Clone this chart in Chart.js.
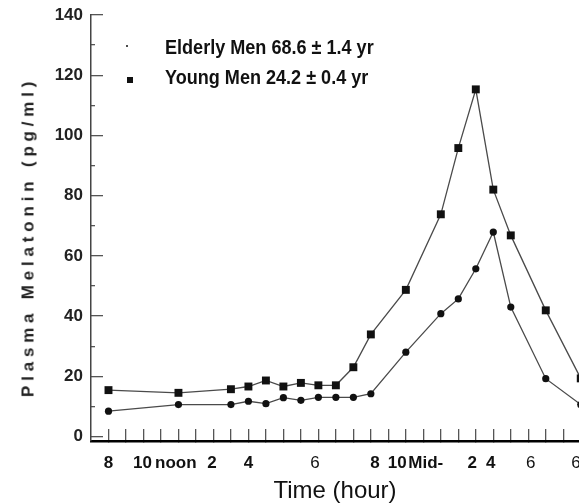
<!DOCTYPE html>
<html>
<head>
<meta charset="utf-8">
<script src="https://cdn.jsdelivr.net/npm/chart.js@4/dist/chart.umd.min.js"></script>
<style>
  html, body { margin: 0; padding: 0; background: #fff; }
  #wrap { position: relative; width: 579px; height: 503px; overflow: hidden; background: #fff; }
  #wrap canvas { position: absolute; left: 0; top: 0; }
  .leg { position: absolute; font-family: "Liberation Sans", Arial, sans-serif; font-weight: bold; font-size: 21px;
         color: #111; white-space: nowrap; transform: scaleX(0.86); transform-origin: 0 0; line-height: normal; }
  .mk { position: absolute; background: #111; }
  #ytitle { position: absolute; left: 27.5px; top: 237px; font-family: "Liberation Sans", Arial, sans-serif;
            font-weight: bold; font-size: 17px; line-height: 1; letter-spacing: 4.8px; color: #222;
            white-space: nowrap; transform: translate(-50%, -50%) rotate(-90deg); }
</style>
</head>
<body>
<div id="wrap">
  <canvas id="c"></canvas>
  <div class="mk" style="left:125.5px;top:44.8px;width:2.5px;height:2.5px;border-radius:50%;"></div>
  <div class="mk" style="left:126.7px;top:77px;width:6px;height:6px;"></div>
  <div class="leg" id="leg0" style="left:165px;top:35px;"></div>
  <div class="leg" id="leg1" style="left:165px;top:65px;"></div>
  <div id="ytitle"></div>
</div>
<script>
// ---- data ----
const hours = [8, 12, 15, 16, 17, 18, 19, 20, 21, 22, 23, 25, 27, 28, 29, 30, 31, 33, 35];
const youngMen = [15.4, 14.5, 15.7, 16.6, 18.6, 16.6, 17.8, 17, 17, 23, 33.9, 48.7, 73.8, 95.8, 115.3, 82, 66.8, 41.9, 19.3];
const elderlyMen = [8.4, 10.6, 10.6, 11.7, 10.9, 12.9, 12, 13, 13, 13, 14.2, 28, 40.8, 45.7, 55.7, 67.9, 43, 19.2, 10.6];
const seriesNames = ['Elderly Men 68.6 ± 1.4 yr', 'Young Men 24.2 ± 0.4 yr'];
const hourTicks = [8, 9, 10, 11, 12, 13, 14, 15, 16, 17, 18, 19, 20, 21, 22, 23, 24, 25, 26, 27, 28, 29, 30, 31, 32, 33, 34, 35];
const timeLabels = ['8', '10', 'noon', '2', '4', '6', '8', '10', 'Mid-', '2', '4', '6', '6'];
const timeLabelHours = [8, 9.94, 11.85, 13.91, 16, 19.81, 23.24, 24.51, 26.14, 28.8, 29.85, 32.14, 34.73];
const yLabelValues = [0, 20, 40, 60, 80, 100, 120, 140];
const xTitle = 'Time (hour)';
const yTitle = 'Plasma Melatonin (pg/ml)';

document.getElementById('leg0').textContent = seriesNames[0];
document.getElementById('leg1').textContent = seriesNames[1];
document.getElementById('ytitle').textContent = yTitle;

const toPts = (vals) => hours.map((h, i) => ({ x: h, y: vals[i] }));

new Chart(document.getElementById('c'), {
  type: 'line',
  data: {
    datasets: [
      {
        label: seriesNames[0],
        data: toPts(elderlyMen),
        borderColor: '#4a4a4a', borderWidth: 1.3,
        pointStyle: 'circle', pointRadius: 3.6,
        pointBackgroundColor: '#111', pointBorderColor: '#111', pointBorderWidth: 0,
        tension: 0, clip: false
      },
      {
        label: seriesNames[1],
        data: toPts(youngMen),
        borderColor: '#4a4a4a', borderWidth: 1.3,
        pointStyle: 'rect', pointRadius: 5.6,
        pointBackgroundColor: '#111', pointBorderColor: '#111', pointBorderWidth: 0,
        tension: 0, clip: false
      }
    ]
  },
  options: {
    responsive: true,
    maintainAspectRatio: false,
    animation: false,
    layout: { autoPadding: false, padding: { top: 15, right: 0, bottom: 0, left: 0 } },
    plugins: { legend: { display: false }, tooltip: { enabled: false } },
    scales: {
      x: {
        type: 'linear',
        min: 7, max: 34.9,
        border: { display: true, color: '#000', width: 2.5 },
        grid: {
          drawOnChartArea: false, drawTicks: true, tickLength: -12, lineWidth: 1.3,
          color: (ctx) => (ctx.tick && ctx.tick.mark) ? '#555' : 'rgba(0,0,0,0)'
        },
        afterBuildTicks: (scale) => {
          const t = hourTicks.map(h => ({ value: h, mark: true, text: '' }));
          timeLabels.forEach((s, i) => t.push({ value: timeLabelHours[i], mark: false, text: s }));
          t.sort((a, b) => a.value - b.value);
          scale.ticks = t;
        },
        afterFit: (scale) => { scale.height = 62; scale.paddingLeft = 0; scale.paddingRight = 0; },
        ticks: {
          autoSkip: false, maxRotation: 0, minRotation: 0, padding: 24,
          color: '#111',
          font: (ctx) => ({
            family: '"Liberation Sans", Arial, sans-serif',
            size: 17,
            weight: (ctx.tick && ctx.tick.text === '6') ? 'normal' : 'bold'
          }),
          callback: (v, i, ticks) => ticks[i].text
        },
        title: {
          display: true, text: xTitle, color: '#111',
          font: { family: '"Liberation Sans", Arial, sans-serif', size: 24, lineHeight: 1 },
          padding: { top: 0, bottom: 0 }
        }
      },
      y: {
        type: 'linear',
        min: -1.5, max: 140,
        border: { display: true, color: '#444', width: 1.5 },
        grid: {
          drawOnChartArea: false, drawTicks: true, tickLength: -12, lineWidth: 1.3, color: '#555',
          tickBorderDash: (ctx) => (ctx.tick && ctx.tick.value % 20 !== 0) ? [4, 100] : [],
          tickBorderDashOffset: (ctx) => (ctx.tick && ctx.tick.value % 20 !== 0) ? -8 : 0
        },
        afterFit: (scale) => { scale.width = 91; scale.paddingTop = 0; scale.paddingBottom = 0; },
        ticks: {
          stepSize: 10, includeBounds: false, padding: 20, color: '#222',
          font: { family: '"Liberation Sans", Arial, sans-serif', size: 17, weight: 'bold' },
          callback: (v) => yLabelValues.includes(v) ? String(v) : ''
        },
        title: { display: false }
      }
    }
  }
});
</script>
</body>
</html>
